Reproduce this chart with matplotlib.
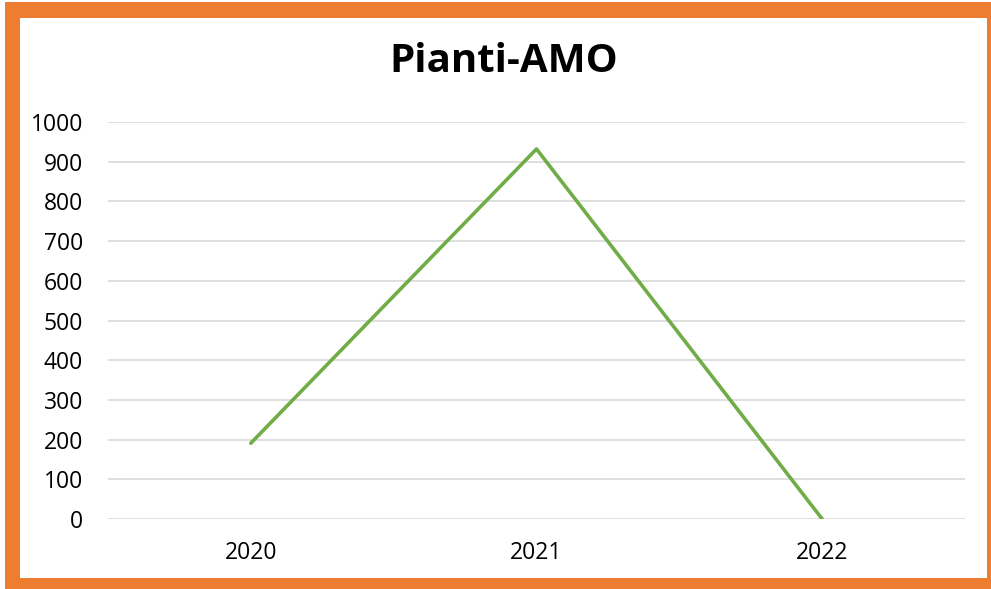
import matplotlib
matplotlib.use("Agg")
import matplotlib.pyplot as plt
from matplotlib.patches import Rectangle

years = ["2020", "2021", "2022"]
values = [191, 932, 0]
yticks = [0, 100, 200, 300, 400, 500, 600, 700, 800, 900, 1000]

W, H = 991, 589
fig = plt.figure(figsize=(W / 100, H / 100), dpi=100)
fig.patch.set_facecolor("white")

orange = "#ED7D31"
def rect(x0, y0, x1, y1):
    fig.patches.append(Rectangle((x0 / W, 1 - y1 / H), (x1 - x0) / W, (y1 - y0) / H,
                                 transform=fig.transFigure, facecolor=orange,
                                 edgecolor="none", zorder=0))
rect(5, 2, 20, 589)     # left
rect(5, 2, 991, 18)     # top
rect(987, 2, 991, 589)  # right
rect(5, 578, 991, 589)  # bottom

ax = fig.add_axes([108 / W, 1 - 519 / H, (965 - 108) / W, (519 - 122) / H])
ax.set_facecolor("none")
x = list(range(len(years)))
ax.plot(x, values, color="#70AD47", linewidth=2.6, solid_capstyle="round", zorder=3)
ax.set_xlim(-0.5, len(years) - 0.5)
ax.set_ylim(0, 1000)
ax.set_yticks(yticks)
ax.set_xticks(x)
ax.set_xticklabels(years)
font = "Open Sans"
for lab in ax.get_xticklabels() + ax.get_yticklabels():
    lab.set_fontfamily(font)
    lab.set_fontsize(16.5)
    lab.set_color("black")
ax.tick_params(axis="both", length=0)
ax.tick_params(axis="y", pad=18)
ax.tick_params(axis="x", pad=16)
ax.grid(axis="y", color="#D9D9D9", linewidth=1.2)
ax.set_axisbelow(True)
for s in ax.spines.values():
    s.set_visible(False)

fig.text(504 / W, 1 - 61 / H, "Pianti-AMO", ha="center", va="center",
         fontsize=29, fontweight="bold", family=font)

fig.savefig("out.png", dpi=100)
